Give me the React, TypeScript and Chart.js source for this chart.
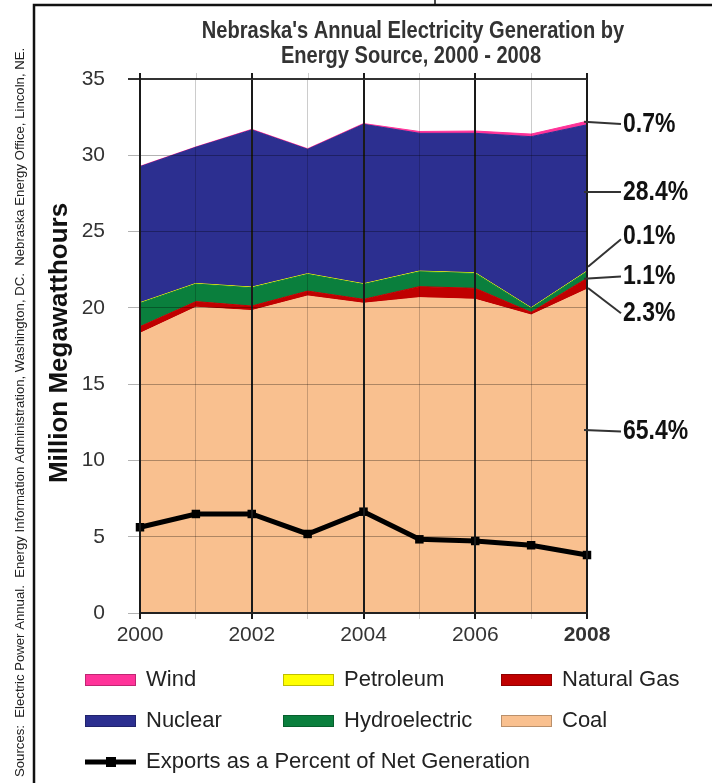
import React, { useEffect, useRef } from 'react';
import { Chart, registerables } from 'chart.js';

Chart.register(...registerables);

// ---------- data ----------
const YEARS = ['2000', '2001', '2002', '2003', '2004', '2005', '2006', '2007', '2008'];
const COAL = [18.33, 20.04, 19.82, 20.78, 20.3, 20.67, 20.56, 19.53, 21.22];
const NATURAL_GAS = [0.44, 0.37, 0.3, 0.32, 0.26, 0.72, 0.72, 0.18, 0.72];
const HYDROELECTRIC = [1.53, 1.15, 1.2, 1.1, 0.98, 0.98, 0.98, 0.26, 0.43];
const PETROLEUM = [0.04, 0.04, 0.04, 0.04, 0.04, 0.04, 0.04, 0.04, 0.04];
const NUCLEAR = [8.91, 8.92, 10.3, 8.15, 10.45, 9.03, 9.14, 11.21, 9.59];
const WIND = [0.03, 0.03, 0.04, 0.04, 0.05, 0.12, 0.15, 0.17, 0.23];
const EXPORTS = [5.62, 6.49, 6.49, 5.18, 6.64, 4.83, 4.72, 4.44, 3.8];

const Y_MIN = 0;
const Y_MAX = 35;
const Y_STEP = 5;

// 2008 shares shown at right
const SHARE_LABELS = ['0.7%', '28.4%', '0.1%', '1.1%', '2.3%', '65.4%'];
const SHARE_TEXT_AT = [32.05, 27.6, 24.7, 22.05, 19.65, 11.9];
const SHARE_ANCHOR_AT = [32.2, 27.6, 22.7, 21.9, 21.3, 12.0];

const TITLE_LINES = ["Nebraska's Annual Electricity Generation by", 'Energy Source, 2000 - 2008'];
const Y_TITLE = 'Million Megawatthours';
const SOURCE_TEXT =
  'Sources:  Electric Power Annual.  Energy Information Administration, Washington, DC.  Nebraska Energy Office, Lincoln, NE.';
const LEGEND_ROWS = [
  ['Wind', 'Petroleum', 'Natural Gas'],
  ['Nuclear', 'Hydroelectric', 'Coal'],
  ['Exports as a Percent of Net Generation'],
];

const COLORS: Record<string, string> = {
  Coal: '#F9C08F',
  'Natural Gas': '#C00000',
  Hydroelectric: '#0A7F3D',
  Petroleum: '#FFFF00',
  Nuclear: '#2C2F90',
  Wind: '#FF3399',
  'Exports as a Percent of Net Generation': '#000000',
};

const EVEN_GRID = '#1a1a1a';
const ODD_GRID = 'rgba(0,0,0,0.2)';

// ---------- helpers ----------
let narrowAvailable: boolean | null = null;
function checkNarrow(ctx: CanvasRenderingContext2D) {
  if (narrowAvailable !== null) return narrowAvailable;
  ctx.save();
  ctx.font = '20px "Liberation Sans Narrow", monospace';
  const a = ctx.measureText('abcdefghijklmn').width;
  ctx.font = '20px monospace';
  const b = ctx.measureText('abcdefghijklmn').width;
  ctx.restore();
  narrowAvailable = Math.abs(a - b) > 0.5;
  return narrowAvailable;
}

function drawNarrow(
  ctx: CanvasRenderingContext2D,
  text: string,
  x: number,
  y: number,
  size: number,
  bold: boolean,
  align: CanvasTextAlign,
  color: string
) {
  ctx.save();
  ctx.fillStyle = color;
  ctx.textAlign = align;
  ctx.textBaseline = 'middle';
  if (checkNarrow(ctx)) {
    ctx.font = `${bold ? 'bold ' : ''}${size}px "Liberation Sans Narrow"`;
    ctx.fillText(text, x, y);
  } else {
    ctx.font = `${bold ? 'bold ' : ''}${size}px "Liberation Sans", Arial, sans-serif`;
    ctx.translate(x, y);
    ctx.scale(0.82, 1);
    ctx.fillText(text, 0, 0);
  }
  ctx.restore();
}

const decorPlugin = {
  id: 'decor',
  afterDraw(chart: any) {
    const ctx: CanvasRenderingContext2D = chart.ctx;
    const xs = chart.scales.x;
    const ys = chart.scales.y;
    const area = chart.chartArea;
    ctx.save();

    // frame
    ctx.strokeStyle = '#111';
    ctx.lineWidth = 2.5;
    ctx.beginPath();
    ctx.moveTo(34, 783);
    ctx.lineTo(34, 5);
    ctx.lineTo(712, 5);
    ctx.stroke();
    ctx.lineWidth = 1.5;
    ctx.beginPath();
    ctx.moveTo(435, 0);
    ctx.lineTo(435, 5);
    ctx.stroke();

    // vertical grid stubs above the plot top
    YEARS.forEach((_, i) => {
      const px = Math.round(xs.getPixelForValue(i));
      ctx.strokeStyle = i % 2 === 0 ? EVEN_GRID : ODD_GRID;
      ctx.lineWidth = i % 2 === 0 ? 2 : 1;
      ctx.beginPath();
      ctx.moveTo(px + (i % 2 === 0 ? 0 : 0.5), area.top - 6);
      ctx.lineTo(px + (i % 2 === 0 ? 0 : 0.5), area.top);
      ctx.stroke();
    });

    // title
    drawNarrow(ctx, TITLE_LINES[0], 413, 31, 24.5, true, 'center', '#333');
    drawNarrow(ctx, TITLE_LINES[1], 411, 56, 24.5, true, 'center', '#333');

    // y title
    ctx.save();
    ctx.translate(60, 343);
    ctx.rotate(-Math.PI / 2);
    ctx.font = 'bold 26px "Liberation Sans", Arial, sans-serif';
    ctx.fillStyle = '#111';
    ctx.textAlign = 'center';
    ctx.textBaseline = 'middle';
    ctx.fillText(Y_TITLE, 0, 0);
    ctx.restore();

    // source text (vertical)
    ctx.save();
    ctx.translate(20, 777);
    ctx.rotate(-Math.PI / 2);
    ctx.font = '12px "Liberation Sans", Arial, sans-serif';
    const w = ctx.measureText(SOURCE_TEXT).width;
    const size = (12 * 730) / w;
    ctx.font = `${size}px "Liberation Sans", Arial, sans-serif`;
    ctx.fillStyle = '#222';
    ctx.textAlign = 'left';
    ctx.textBaseline = 'middle';
    ctx.fillText(SOURCE_TEXT, 0, 0);
    ctx.restore();

    // right share labels
    const xr = xs.getPixelForValue(YEARS.length - 1);
    ctx.strokeStyle = '#333';
    ctx.lineWidth = 2;
    SHARE_LABELS.forEach((lab, i) => {
      const ay = ys.getPixelForValue(SHARE_ANCHOR_AT[i]);
      const ty = ys.getPixelForValue(SHARE_TEXT_AT[i]);
      const diag = Math.abs(ay - ty) > 6;
      const endY = ay - ty > 10 ? ty + 3 : ty;
      ctx.beginPath();
      ctx.moveTo(diag ? xr + 1 : xr - 3, ay);
      ctx.lineTo(xr + 34, endY);
      ctx.stroke();
      drawNarrow(ctx, lab, xr + 36, ty, 28, true, 'left', '#111');
    });

    // legend
    const colX = [85, 283, 501];
    const rowY = [680, 721, 762];
    LEGEND_ROWS.forEach((row, r) => {
      row.forEach((label, c) => {
        const sx = colX[c];
        const cy = rowY[r];
        const color = COLORS[label];
        if (label.startsWith('Exports')) {
          ctx.strokeStyle = color;
          ctx.lineWidth = 5;
          ctx.beginPath();
          ctx.moveTo(sx, cy);
          ctx.lineTo(sx + 51, cy);
          ctx.stroke();
          ctx.fillStyle = color;
          ctx.fillRect(sx + 21, cy - 5, 10, 10);
        } else {
          ctx.fillStyle = color;
          ctx.fillRect(sx, cy - 6, 51, 12);
          ctx.strokeStyle = 'rgba(0,0,0,0.25)';
          ctx.lineWidth = 1;
          ctx.strokeRect(sx + 0.5, cy - 5.5, 50, 11);
        }
        ctx.fillStyle = '#222';
        ctx.font = '22px "Liberation Sans", Arial, sans-serif';
        ctx.textAlign = 'left';
        ctx.textBaseline = 'middle';
        ctx.fillText(label, sx + 61, cy);
      });
    });

    ctx.restore();
  },
};

function areaSet(label: string, data: number[], fill: string | number) {
  return {
    type: 'line' as const,
    label,
    data,
    fill,
    backgroundColor: COLORS[label],
    borderColor: COLORS[label],
    borderWidth: 1,
    pointRadius: 0,
    tension: 0,
    stack: 'gen',
    order: 1,
  };
}

export default function App() {
  const ref = useRef<HTMLCanvasElement | null>(null);

  useEffect(() => {
    document.body.style.margin = '0';
    const canvas = ref.current;
    if (!canvas) return;
    const chart = new Chart(canvas, {
      type: 'line',
      data: {
        labels: YEARS,
        datasets: [
          areaSet('Coal', COAL, 'origin'),
          areaSet('Natural Gas', NATURAL_GAS, '-1'),
          areaSet('Hydroelectric', HYDROELECTRIC, '-1'),
          areaSet('Petroleum', PETROLEUM, '-1'),
          areaSet('Nuclear', NUCLEAR, '-1'),
          areaSet('Wind', WIND, '-1'),
          {
            type: 'line',
            label: 'Exports as a Percent of Net Generation',
            data: EXPORTS,
            fill: false,
            borderColor: '#000',
            backgroundColor: '#000',
            borderWidth: 5,
            pointStyle: 'rect',
            pointRadius: 6,
            pointBorderWidth: 0,
            tension: 0,
            stack: 'exports',
            order: 0,
          } as any,
        ],
      },
      options: {
        responsive: false,
        animation: false,
        devicePixelRatio: 1,
        layout: { padding: { left: 40, right: 125, top: 79, bottom: 130 } },
        plugins: {
          legend: { display: false },
          tooltip: { enabled: false },
          title: { display: false },
        },
        scales: {
          x: {
            offset: false,
            grid: {
              z: 1,
              offset: false,
              color: (c: any) => (c.index % 2 === 0 ? EVEN_GRID : ODD_GRID),
              lineWidth: (c: any) => (c.index % 2 === 0 ? 2 : 1),
              tickColor: (c: any) => (c.index % 2 === 0 ? EVEN_GRID : ODD_GRID),
              tickLength: 6,
            },
            border: { display: true, color: '#222', width: 2, z: 2 },
            ticks: {
              autoSkip: false,
              maxRotation: 0,
              padding: 4,
              color: '#333',
              font: (c: any) => ({
                family: '"Liberation Sans", Arial, sans-serif',
                size: 21,
                weight: c.index === YEARS.length - 1 ? 'bold' : 'normal',
              }),
              callback: (_v: any, i: number) => (i % 2 === 0 ? YEARS[i] : ''),
            },
            afterFit: (s: any) => {
              s.height = 40;
            },
          },
          y: {
            stacked: true,
            min: Y_MIN,
            max: Y_MAX,
            grid: {
              z: 1,
              color: (c: any) => (c.tick && c.tick.value === Y_MAX ? '#333' : 'rgba(0,0,0,0.3)'),
              lineWidth: (c: any) => (c.tick && c.tick.value === Y_MAX ? 2 : 1),
              tickColor: (c: any) => (c.tick && c.tick.value === Y_MAX ? '#333' : 'rgba(0,0,0,0.3)'),
              tickLength: 12,
            },
            border: { display: true, color: '#1a1a1a', width: 2, z: 2 },
            ticks: {
              stepSize: Y_STEP,
              padding: 23,
              color: '#333',
              font: { family: '"Liberation Sans", Arial, sans-serif', size: 21 },
            },
            afterFit: (s: any) => {
              s.width = 100;
            },
          },
        },
      } as any,
      plugins: [decorPlugin],
    });
    return () => chart.destroy();
  }, []);

  return (
    <div style={{ width: 712, height: 783, background: '#fff' }}>
      <canvas ref={ref} width={712} height={783} style={{ display: 'block' }} />
    </div>
  );
}
